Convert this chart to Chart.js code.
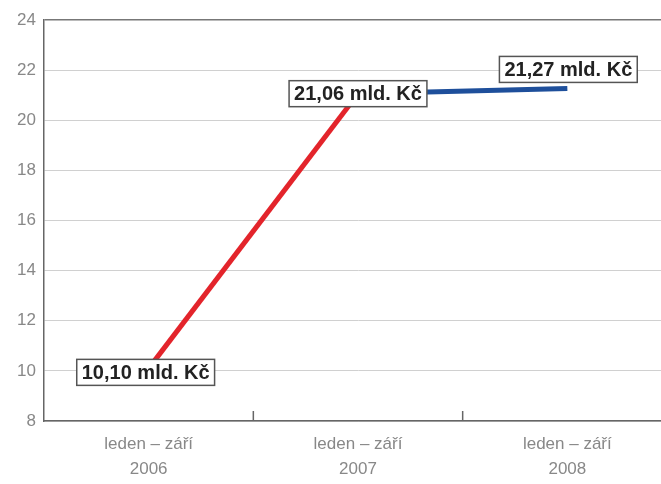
<!DOCTYPE html>
<html>
<head>
<meta charset="utf-8">
<script src="https://cdn.jsdelivr.net/npm/chart.js@4/dist/chart.umd.min.js"></script>
<style>
  html, body { margin: 0; padding: 0; background: #fff; overflow: hidden; }
  #wrap { position: relative; width: 672px; height: 484px; }
</style>
</head>
<body>
<div id="wrap"><canvas id="chart"></canvas></div>
<script>
// data
const categories = [['leden – září', '2006'], ['leden – září', '2007'], ['leden – září', '2008']];
const values = [10.10, 21.06, 21.27];
const valueLabels = ['10,10 mld. Kč', '21,06 mld. Kč', '21,27 mld. Kč'];
const yTicks = [8, 10, 12, 14, 16, 18, 20, 22, 24];

const RED = '#e3242b';
const BLUE = '#1e4f9b';
const FONT = '"Liberation Sans", Arial, sans-serif';

// boxed value labels + inward category ticks on the x axis
const extras = {
  id: 'extras',
  afterDatasetsDraw(chart) {
    const ctx = chart.ctx;
    const x = chart.scales.x;
    const area = chart.chartArea;

    // short ticks between categories, pointing up into the plot
    ctx.save();
    ctx.strokeStyle = '#666';
    ctx.lineWidth = 1.5;
    for (let i = 0; i < categories.length - 1; i++) {
      const px = (x.getPixelForValue(i) + x.getPixelForValue(i + 1)) / 2;
      ctx.beginPath();
      ctx.moveTo(px, area.bottom);
      ctx.lineTo(px, area.bottom - 10);
      ctx.stroke();
    }
    ctx.restore();

    const meta = chart.getDatasetMeta(0);
    ctx.save();
    ctx.font = 'bold 20px ' + FONT;
    ctx.textAlign = 'center';
    ctx.textBaseline = 'middle';
    meta.data.forEach((pt, i) => {
      let cx = pt.x;
      let cy = pt.y;
      if (i === 0) { cx -= 3; cy += 4; }
      if (i === 2) { cx += 1; cy -= 19; }
      const w = ctx.measureText(valueLabels[i]).width + 10;
      const h = 26;
      ctx.fillStyle = '#fff';
      ctx.fillRect(cx - w / 2, cy - h / 2, w, h);
      ctx.strokeStyle = '#555';
      ctx.lineWidth = 1.5;
      ctx.strokeRect(cx - w / 2, cy - h / 2, w, h);
      ctx.fillStyle = '#222';
      ctx.fillText(valueLabels[i], cx, cy + 1);
    });
    ctx.restore();
  }
};

new Chart(document.getElementById('chart'), {
  type: 'line',
  data: {
    labels: categories,
    datasets: [{
      data: values,
      borderWidth: 5,
      borderColor: RED,
      pointRadius: 0,
      tension: 0,
      segment: {
        borderColor: (c) => c.p0DataIndex === 0 ? RED : BLUE
      }
    }]
  },
  options: {
    responsive: true,
    maintainAspectRatio: false,
    animation: false,
    layout: { padding: { top: 20, left: 0, right: 0, bottom: 0 } },
    plugins: {
      legend: { display: false },
      tooltip: { enabled: false }
    },
    scales: {
      x: {
        offset: true,
        afterFit: (axis) => { axis.height = 63; },
        grid: { display: false },
        border: { display: true, color: '#666', width: 1.5 },
        ticks: {
          color: '#888',
          padding: 3,
          maxRotation: 0,
          font: { family: FONT, size: 17, lineHeight: 1.45 }
        }
      },
      y: {
        min: yTicks[0],
        max: yTicks[yTicks.length - 1],
        afterBuildTicks: (axis) => { axis.ticks = yTicks.map(v => ({ value: v })); },
        afterFit: (axis) => { axis.width = 44; },
        grid: {
          color: (c) => c.tick && c.tick.value === 24 ? '#777' : '#d0d0d0',
          lineWidth: (c) => c.tick && c.tick.value === 24 ? 1.5 : 1,
          drawTicks: false
        },
        border: { display: true, color: '#666', width: 1.5 },
        ticks: {
          color: '#888',
          padding: 8,
          font: { family: FONT, size: 17 }
        }
      }
    }
  },
  plugins: [extras]
});
</script>
</body>
</html>
